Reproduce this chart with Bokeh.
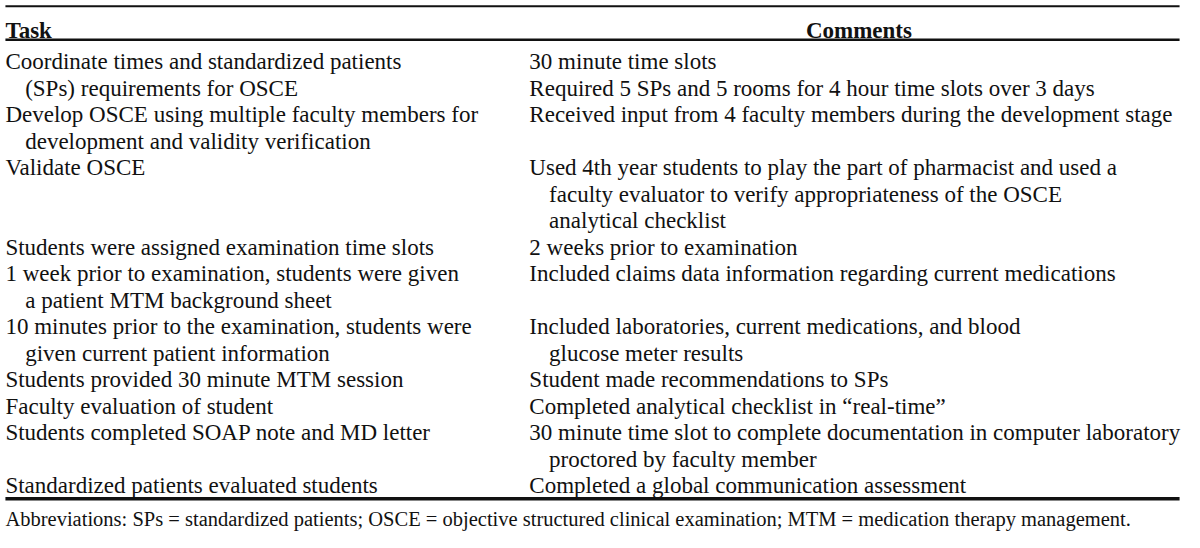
from bokeh.plotting import figure
from bokeh.models import ColumnDataSource
from bokeh.core.properties import value
from bokeh.embed import file_html
from bokeh.resources import INLINE

# ---- table content ----
headers = ["Task", "Comments"]

tasks = [
    [["Coordinate times and standardized patients", "(SPs) requirements for OSCE"]],
    [["Develop OSCE using multiple faculty members for", "development and validity verification"]],
    [["Validate OSCE"]],
    [["Students were assigned examination time slots"]],
    [["1 week prior to examination, students were given", "a patient MTM background sheet"]],
    [["10 minutes prior to the examination, students were", "given current patient information"]],
    [["Students provided 30 minute MTM session"]],
    [["Faculty evaluation of student"]],
    [["Students completed SOAP note and MD letter"]],
    [["Standardized patients evaluated students"]],
]

comments = [
    [["30 minute time slots"], ["Required 5 SPs and 5 rooms for 4 hour time slots over 3 days"]],
    [["Received input from 4 faculty members during the development stage"]],
    [["Used 4th year students to play the part of pharmacist and used a",
      "faculty evaluator to verify appropriateness of the OSCE",
      "analytical checklist"]],
    [["2 weeks prior to examination"]],
    [["Included claims data information regarding current medications"]],
    [["Included laboratories, current medications, and blood", "glucose meter results"]],
    [["Student made recommendations to SPs"]],
    [["Completed analytical checklist in \u201creal-time\u201d"]],
    [["30 minute time slot to complete documentation in computer laboratory",
      "proctored by faculty member"]],
    [["Completed a global communication assessment"]],
]

footnote = ("Abbreviations: SPs = standardized patients; OSCE = objective structured "
            "clinical examination; MTM = medication therapy management.")

# ---- layout (reference pixel coordinates) ----
W, H = 1184, 532
FONT = "Liberation Serif"
BODY_SIZE = "23px"
INK = "#111111"
LEFT_X = 5
RIGHT_X = 536
INDENT = 20
FIRST_BASE = 63
LINE_H = 27.3

p = figure(width=W, height=H, x_range=(0, 1200), y_range=(548, 0),
           output_backend="svg", toolbar_location=None, min_border=0)
p.axis.visible = False
p.grid.visible = False
p.outline_line_color = None
p.background_fill_color = "white"
p.border_fill_color = "white"

# body lines
xs, ys, txt = [], [], []
line_idx = 0
for t_cell, c_cell in zip(tasks, comments):
    def place(cell, x_base, start):
        n = 0
        for para in cell:
            for k, ln in enumerate(para):
                xs.append(x_base + (INDENT if k > 0 else 0))
                ys.append(FIRST_BASE + LINE_H * (start + n))
                txt.append(ln)
                n += 1
        return n
    nt = place(t_cell, LEFT_X, line_idx)
    nc = place(c_cell, RIGHT_X, line_idx)
    line_idx += max(nt, nc)

src = ColumnDataSource(dict(x=xs, y=ys, text=txt))
p.text(x="x", y="y", text="text", source=src, text_font=value(FONT),
       text_font_size=BODY_SIZE, text_color=INK, text_baseline="alphabetic",
       text_align="left")

# headers
hsrc = ColumnDataSource(dict(x=[LEFT_X, 870], y=[31, 31], text=headers,
                             align=["left", "center"]))
p.text(x="x", y="y", text="text", source=hsrc, text_font=value(FONT),
       text_font_size=BODY_SIZE, text_font_style="bold", text_color=INK,
       text_baseline="alphabetic", text_align="align")

# rules
last_base = FIRST_BASE + LINE_H * (line_idx - 1)
rule_y = [6, 40.5, last_base + 13.5]
rule_w = [2, 2.5, 3.5]
p.segment(x0=[5] * 3, x1=[1195] * 3, y0=rule_y, y1=rule_y,
          line_color=INK, line_width=rule_w)

# footnote
p.text(x=[LEFT_X], y=[last_base + 34.5], text=[footnote], text_font=value(FONT),
       text_font_size="20.5px", text_color=INK, text_baseline="alphabetic",
       text_align="left")

open("out.html", "w").write(file_html(p, INLINE))
